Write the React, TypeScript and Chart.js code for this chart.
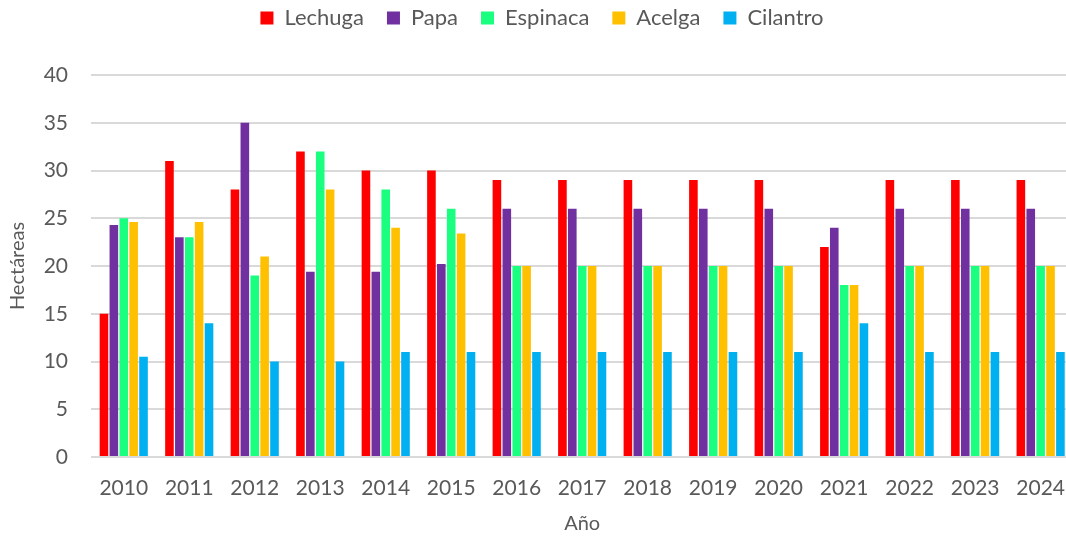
import React, { useEffect, useRef } from "react";
import { Chart, registerables } from "chart.js";

Chart.register(...registerables);

const years = ["2010", "2011", "2012", "2013", "2014", "2015", "2016", "2017", "2018", "2019", "2020", "2021", "2022", "2023", "2024"];
const lechuga = [15, 31, 28, 32, 30, 30, 29, 29, 29, 29, 29, 22, 29, 29, 29];
const papa = [24.3, 23, 35, 19.4, 19.4, 20.2, 26, 26, 26, 26, 26, 24, 26, 26, 26];
const espinaca = [25, 23, 19, 32, 28, 26, 20, 20, 20, 20, 20, 18, 20, 20, 20];
const acelga = [24.6, 24.6, 21, 28, 24, 23.4, 20, 20, 20, 20, 20, 18, 20, 20, 20];
const cilantro = [10.5, 14, 10, 10, 11, 11, 11, 11, 11, 11, 11, 14, 11, 11, 11];
const yTicks = [0, 5, 10, 15, 20, 25, 30, 35, 40];

const seriesNames = ["Lechuga", "Papa", "Espinaca", "Acelga", "Cilantro"];
const seriesColors = ["#FF0000", "#7030A0", "#1AFF80", "#FFC000", "#00B0F0"];

const FONT = "Lato, 'Open Sans', sans-serif";
const TEXT = "#595959";

const legendSpacer = {
  id: "legendSpacer",
  beforeLayout(chart: any) {
    const lg = chart.legend;
    if (lg && !lg._patched) {
      const orig = lg.fit;
      lg.fit = function () {
        orig.call(this);
        this.height = 75;
      };
      lg._patched = true;
    }
  },
  afterLayout(chart: any) {
    const lg = chart.legend;
    if (lg) {
      lg.top -= 16;
      lg.bottom -= 16;
    }
  },
};

export default function App() {
  const ref = useRef<HTMLCanvasElement | null>(null);
  useEffect(() => {
    if (!ref.current) return;
    const all = [lechuga, papa, espinaca, acelga, cilantro];
    const chart = new Chart(ref.current, {
      type: "bar",
      data: {
        labels: years,
        datasets: all.map((d, i) => ({
          label: seriesNames[i],
          data: d,
          backgroundColor: seriesColors[i],
          borderWidth: 0,
          barPercentage: 0.87,
          categoryPercentage: 0.755,
        })),
      },
      options: {
        animation: false,
        responsive: true,
        maintainAspectRatio: false,
        layout: { padding: 0 },
        plugins: {
          legend: {
            position: "top",
            labels: {
              boxWidth: 13,
              boxHeight: 13,
              padding: 23,
              color: TEXT,
              font: { family: FONT, size: 22 },
            },
          },
          tooltip: { enabled: false },
        },
        scales: {
          x: {
            grid: { display: false, drawTicks: false },
            border: { display: false },
            ticks: { color: TEXT, padding: 19, font: { family: FONT, size: 21 }, maxRotation: 0 },
            title: {
              display: true,
              text: "Año",
              color: TEXT,
              padding: { top: 0, bottom: 0 },
              font: { family: FONT, size: 20 },
            },
            afterFit: (s: any) => {
              s.height = 79;
            },
          },
          y: {
            min: 0,
            max: 40,
            afterBuildTicks: (s: any) => {
              s.ticks = yTicks.map((v) => ({ value: v }));
            },
            grid: { color: "#D9D9D9", lineWidth: 2, drawTicks: false },
            border: { display: false },
            ticks: { color: TEXT, padding: 23, font: { family: FONT, size: 21 } },
            title: {
              display: true,
              text: "Hectáreas",
              color: TEXT,
              padding: { top: 6, bottom: 0 },
              font: { family: FONT, size: 20 },
            },
            afterFit: (s: any) => {
              s.width = 91;
            },
          },
        },
      },
      plugins: [legendSpacer],
    });
    return () => chart.destroy();
  }, []);

  return (
    <div style={{ position: "fixed", left: 0, top: 0, width: 1066, height: 536, overflow: "hidden", background: "#fff" }}>
      <div style={{ position: "relative", width: 1084, height: 536 }}>
        <canvas ref={ref} />
      </div>
    </div>
  );
}
